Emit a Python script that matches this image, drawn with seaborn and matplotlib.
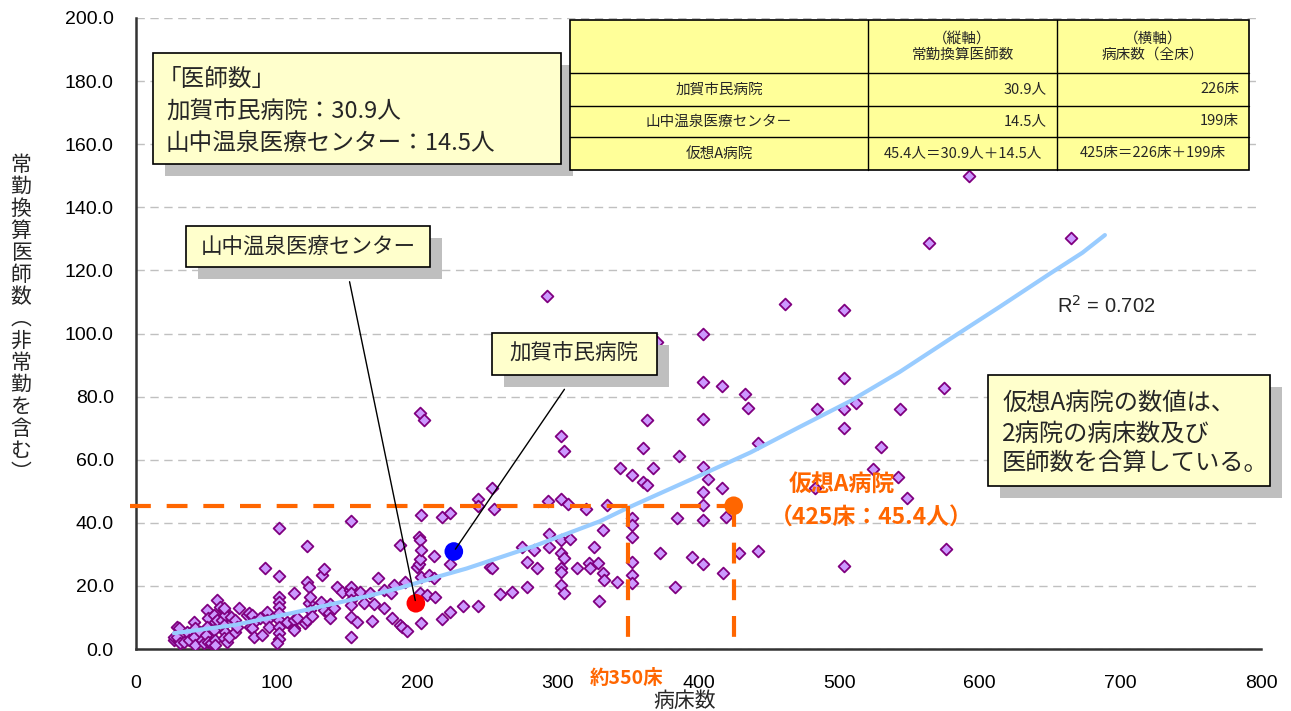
import matplotlib
matplotlib.use("Agg")
import matplotlib.pyplot as plt
from matplotlib.patches import Rectangle
from matplotlib.ticker import FormatStrFormatter
import seaborn as sns
import pandas as pd

# scatter data: beds (x) vs full-time-equivalent doctors (y)
beds = [26.9, 26.9, 29.3, 30.4, 29.3, 30.4, 31.6, 34.0, 36.4, 37.5, 41.1, 42.3, 41.1, 42.3, 45.8, 47.0,
        48.2, 50.6, 51.0, 50.6, 50.1, 51.0, 53.0, 55.3, 56.5, 55.3, 56.5, 56.5, 57.7, 60.0, 57.7, 61.3,
        62.4, 63.6, 62.4, 63.6, 62.4, 64.8, 66.0, 62.4, 67.2, 70.7, 70.7, 71.9, 73.0, 79.0, 80.2, 81.4,
        82.6, 83.7, 82.6, 83.7, 88.5, 89.7, 92.0, 93.2, 93.2, 94.4, 102.0, 102.0, 102.0, 102.0, 102.0,
        102.0, 102.0, 102.0, 102.0, 102.0, 100.3, 107.5, 112.2, 112.2, 112.2, 112.7, 114.6, 120.5, 121.7,
        121.7, 121.7, 122.8, 122.8, 124.0, 124.0, 125.2, 131.8, 132.3, 133.5, 133.5, 137.0, 137.7, 138.2,
        140.6, 143.0, 146.6, 152.5, 153.0, 153.0, 153.2, 153.2, 153.2, 153.0, 153.0, 157.2, 159.6, 162.4,
        166.7, 167.9, 169.0, 171.9, 176.1, 176.1, 181.0, 182.0, 183.2, 188.0, 188.0, 189.0, 191.5, 192.7,
        199.8, 200.9, 201.6, 201.0, 202.0, 202.6, 202.7, 202.0, 205.0, 202.7, 202.0, 202.7, 207.0, 208.0,
        211.7, 211.7, 212.4, 217.6, 217.6, 223.0, 223.0, 223.0, 232.6, 243.2, 243.2, 243.2, 252.0, 253.2,
        253.2, 254.3, 259.0, 267.4, 274.5, 278.0, 278.0, 282.7, 285.0, 292.0, 293.0, 293.4, 293.4, 302.4,
        302.4, 302.4, 302.4, 302.4, 302.4, 302.0, 304.0, 304.0, 304.0, 307.0, 308.3, 313.6, 320.2, 322.3,
        323.0, 325.4, 328.5, 329.4, 332.0, 332.0, 332.5, 335.0, 342.0, 344.4, 352.6, 352.6, 352.6, 352.6,
        352.6, 352.6, 352.6, 360.5, 360.5, 363.3, 363.3, 367.3, 370.4, 372.8, 383.4, 384.6, 386.0, 395.7,
        403.0, 403.0, 403.0, 403.0, 403.0, 403.0, 403.0, 403.5, 406.4, 416.6, 417.0, 417.3, 419.7, 429.1,
        433.0, 435.0, 442.6, 442.6, 461.6, 483.0, 484.0, 503.5, 503.5, 503.5, 503.5, 503.5, 512.0, 524.0,
        530.0, 541.7, 543.0, 548.0, 564.0, 574.8, 576.3, 592.0, 665.0]
doctors = [2.9, 3.9, 7.1, 2.9, 3.9, 6.6, 1.8, 2.3, 5.5, 2.9, 8.7, 6.6, 3.9, 1.3, 5.5, 2.9,
           1.8, 12.4, 9.7, 7.1, 4.4, 2.3, 1.8, 10.8, 8.7, 6.0, 2.9, 1.3, 15.5, 13.4, 9.2, 9.2,
           12.4, 10.8, 7.6, 5.5, 3.4, 2.3, 3.9, 12.9, 10.2, 9.2, 5.5, 7.1, 12.9, 10.8, 11.3, 7.1,
           10.8, 8.7, 6.6, 3.9, 9.7, 4.4, 25.6, 11.8, 9.2, 7.1, 38.3, 23.1, 16.6, 15.0, 13.4,
           11.3, 9.2, 7.1, 5.2, 3.1, 1.8, 8.7, 6.6, 9.2, 6.0, 17.8, 9.7, 8.1, 9.2,
           21.3, 32.8, 19.6, 14.5, 16.6, 12.4, 10.5, 15.0, 23.5, 25.3, 12.4, 11.3, 14.3, 9.7,
           12.9, 19.7, 18.2, 18.7, 40.7, 19.6, 17.7, 15.5, 13.9, 10.2, 3.9, 8.7, 18.2, 14.5,
           17.7, 9.0, 14.3, 22.6, 18.7, 12.9, 17.7, 9.7, 20.3, 33.0, 7.6, 7.0, 21.3, 5.8,
           26.1, 26.9, 28.4, 35.4, 34.5, 31.4, 42.5, 74.7, 72.6, 22.9, 17.7, 8.3, 17.1, 23.5,
           29.5, 22.4, 16.6, 41.9, 9.4, 43.0, 26.9, 11.8, 13.6, 13.6, 47.5, 45.3, 26.1, 25.6,
           50.9, 44.3, 17.4, 18.2, 32.4, 27.5, 19.6, 31.4, 25.6, 111.9, 47.0, 36.4, 32.4, 47.6,
           34.5, 30.3, 25.6, 24.5, 20.3, 67.5, 62.9, 28.7, 17.7, 46.0, 34.8, 25.6, 44.3, 27.2,
           25.6, 32.4, 27.4, 15.3, 37.7, 24.0, 21.9, 45.6, 21.3, 57.5, 55.2, 41.4, 39.3, 35.4,
           27.7, 23.5, 20.8, 63.6, 53.0, 72.6, 52.0, 57.5, 97.4, 30.3, 19.6, 41.4, 61.2, 29.3,
           99.8, 84.6, 72.8, 57.6, 49.9, 45.6, 40.9, 26.9, 53.9, 50.9, 83.4, 24.0, 41.9, 30.3,
           80.8, 76.4, 65.4, 31.1, 109.3, 50.9, 76.0, 107.4, 85.8, 76.1, 70.1, 26.3, 77.9, 57.0,
           64.1, 54.6, 76.0, 48.0, 128.6, 82.8, 31.7, 150.0, 130.4]

# trend line
trend_x = [27, 70, 110, 167, 188, 216, 235, 283, 330, 349, 401, 437, 472, 508, 543, 579, 614, 650, 673, 689]
trend_y = [5.0, 7.6, 11.3, 17.0, 19.4, 23.1, 25.5, 32.6, 40.5, 44.6, 55.0, 62.3, 70.4, 78.6, 87.8, 98.3,
           108.4, 119.0, 125.6, 131.2]

# highlighted hospitals
kaga_beds, kaga_docs = 226, 30.9
yama_beds, yama_docs = 199, 14.5
hypo_beds, hypo_docs = 425, 45.4
approx_beds = 350
r2 = 0.702

table_rows = [["", "（縦軸）\n常勤換算医師数", "（横軸）\n病床数（全床）"],
              ["加賀市民病院", "30.9人", "226床"],
              ["山中温泉医療センター", "14.5人", "199床"],
              ["仮想A病院", "45.4人＝30.9人＋14.5人", "425床＝226床＋199床"]]

sns.set_theme(style="white")
plt.rcParams['font.family'] = ['Noto Sans CJK JP', 'DejaVu Sans']

W, H = 1291, 711
fig = plt.figure(figsize=(W / 100, H / 100), dpi=100)


def fx(px):
    return px / W


def fy(py):
    return 1 - py / H


ax = fig.add_axes([fx(136), fy(649), fx(1261) - fx(136), fy(18) - fy(649)])

df = pd.DataFrame({'beds': beds, 'doctors': doctors})
sns.scatterplot(data=df, x='beds', y='doctors', marker='D', s=36, color='#CC99FF',
                edgecolor='#800080', linewidth=1.3, ax=ax, zorder=3)
sns.lineplot(x=trend_x, y=trend_y, sort=False, estimator=None, color='#99CCFF', lw=3, ax=ax, zorder=4)

# orange guide lines
dash = dict(color='#FF6600', lw=3, ls=(0, (5, 3.8)), zorder=5, clip_on=False)
ax.plot([-4, hypo_beds], [hypo_docs, hypo_docs], **dash)
ax.plot([hypo_beds, hypo_beds], [hypo_docs, 3], **dash)
ax.plot([approx_beds, approx_beds], [hypo_docs, 1.5], **dash)

sns.scatterplot(x=[kaga_beds], y=[kaga_docs], color='#0000FF', s=180, edgecolor='none', ax=ax, zorder=6)
sns.scatterplot(x=[yama_beds], y=[yama_docs], color='#FF0000', s=180, edgecolor='none', ax=ax, zorder=6)
sns.scatterplot(x=[hypo_beds], y=[hypo_docs], color='#FF6600', s=180, edgecolor='none', ax=ax, zorder=6)

ax.set_xlim(0, 800)
ax.set_ylim(0, 200)
ax.set_xticks(range(0, 801, 100))
ax.set_yticks(range(0, 201, 20))
ax.yaxis.set_major_formatter(FormatStrFormatter('%.1f'))
ax.set_xlabel('')
ax.set_ylabel('')
ax.grid(axis='y', color='#C0C0C0', ls=(0, (6, 4)), lw=1)
ax.tick_params(axis='both', direction='in', length=5, width=1.2, labelsize=14, colors='black')
ax.tick_params(axis='x', pad=19)
ax.tick_params(axis='y', pad=16)
for lab in ax.get_xticklabels() + ax.get_yticklabels():
    lab.set_fontfamily(['Liberation Sans'])
for side in ['left', 'bottom']:
    ax.spines[side].set_color('#333333')
    ax.spines[side].set_linewidth(1.8)
for side in ['top', 'right']:
    ax.spines[side].set_visible(False)

# axis titles
ylab = '常勤換算医師数︵非常勤を含む︶'
fig.text(fx(21), fy(319), '\n'.join(ylab), fontsize=15, ha='center', va='center', linespacing=1.0)
fig.text(fx(685), fy(701), '病床数', fontsize=15, ha='center', va='center')
fig.text(fx(627), fy(679), f'約{approx_beds}床', fontsize=14, ha='center', va='center',
         color='#FF6600', fontweight='bold')

# orange labels for hypothetical hospital
fig.text(fx(842), fy(484), '仮想A病院', fontsize=16.5, ha='center', va='center', color='#FF6600', fontweight='bold')
fig.text(fx(871), fy(518), f'（{hypo_beds}床：{hypo_docs}人）', fontsize=16.5, ha='center', va='center',
         color='#FF6600', fontweight='bold')

fig.text(fx(1057), fy(306), f'R$^2$ = {r2}', fontsize=14.5, ha='left', va='center',
         family=['Liberation Sans'])


def note_box(x0, y0, x1, y1):
    fig.add_artist(Rectangle((fx(x0 + 12), fy(y1 + 12)), fx(x1 - x0), (y1 - y0) / H,
                             transform=fig.transFigure, facecolor='#BFBFBF', edgecolor='none', zorder=8))
    fig.add_artist(Rectangle((fx(x0), fy(y1)), fx(x1 - x0), (y1 - y0) / H,
                             transform=fig.transFigure, facecolor='#FFFFCC', edgecolor='black', lw=1.2, zorder=9))


# leader lines
ax.annotate('', xy=(yama_beds, yama_docs), xycoords='data', xytext=(fx(349), fy(279)),
            textcoords='figure fraction', arrowprops=dict(arrowstyle='-', color='black', lw=1), zorder=7)
ax.annotate('', xy=(kaga_beds, kaga_docs), xycoords='data', xytext=(fx(566), fy(387)),
            textcoords='figure fraction', arrowprops=dict(arrowstyle='-', color='black', lw=1), zorder=7)

note_box(153, 53, 561, 164)
for txt, px, py in zip(['「医師数」', f'加賀市民病院：{kaga_docs}人', f'山中温泉医療センター：{yama_docs}人'],
                       [158, 166, 166], [80, 112, 143]):
    fig.text(fx(px), fy(py), txt, fontsize=17, ha='left', va='center', zorder=10)

note_box(186, 226, 430, 267)
fig.text(fx(308), fy(247), '山中温泉医療センター', fontsize=15.5, ha='center', va='center', zorder=10)

note_box(492, 333, 657, 375)
fig.text(fx(574), fy(354), '加賀市民病院', fontsize=15.5, ha='center', va='center', zorder=10)

note_box(988, 375, 1270, 486)
for txt, py in zip(['仮想A病院の数値は、', '2病院の病床数及び', '医師数を合算している。'], [403, 434, 463]):
    fig.text(fx(1002), fy(py), txt, fontsize=17.5, ha='left', va='center', zorder=10)

# table
col_x = [570, 868, 1057, 1249]
row_y = [20, 73, 106, 137, 170]
fig.add_artist(Rectangle((fx(col_x[0]), fy(row_y[-1])), fx(col_x[-1] - col_x[0]), (row_y[-1] - row_y[0]) / H,
                         transform=fig.transFigure, facecolor='#FFFF99', edgecolor='black', lw=1.2, zorder=8))
for yy in row_y[1:-1]:
    fig.add_artist(plt.Line2D([fx(col_x[0]), fx(col_x[-1])], [fy(yy), fy(yy)], transform=fig.transFigure,
                              color='black', lw=1, zorder=9))
for xx in col_x[1:-1]:
    fig.add_artist(plt.Line2D([fx(xx), fx(xx)], [fy(row_y[0]), fy(row_y[-1])], transform=fig.transFigure,
                              color='black', lw=1, zorder=9))
for r, row in enumerate(table_rows):
    cy = (row_y[r] + row_y[r + 1]) / 2
    for c, txt in enumerate(row):
        if not txt:
            continue
        if c > 0 and r in (1, 2):
            fig.text(fx(col_x[c + 1] - 10), fy(cy), txt, fontsize=10.5, ha='right', va='center', zorder=10)
        else:
            fig.text(fx((col_x[c] + col_x[c + 1]) / 2), fy(cy), txt, fontsize=10.5, ha='center', va='center',
                     zorder=10, linespacing=1.2)

fig.savefig('out.png', dpi=100)
